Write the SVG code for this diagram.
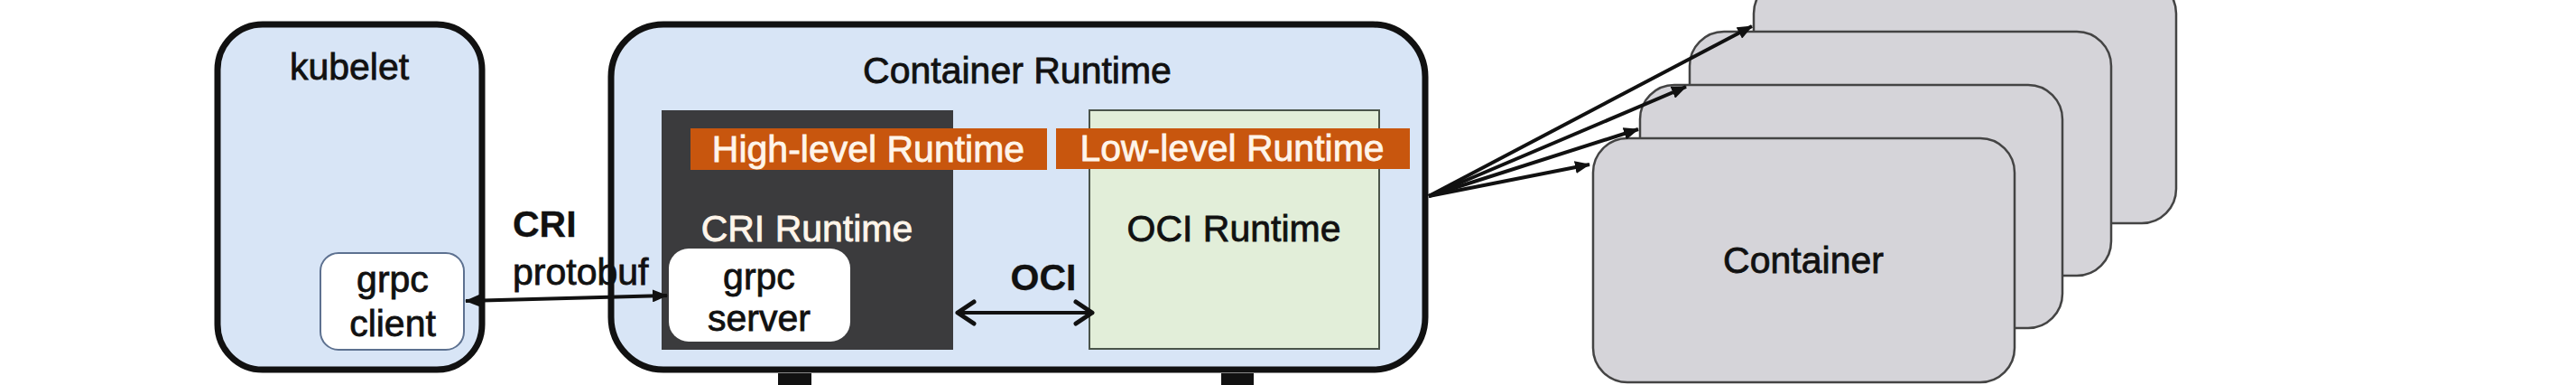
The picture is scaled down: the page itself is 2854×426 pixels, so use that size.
<svg xmlns="http://www.w3.org/2000/svg" width="2854" height="426" viewBox="0 0 2854 426">
<style>
text{font-family:"Liberation Sans",Arial,sans-serif;font-size:41px;fill:#111;stroke:#111;stroke-width:0.8}
.c{text-anchor:middle}
.b{font-weight:bold;stroke-width:0.3}
.w{fill:#fff5ea;stroke:#fff5ea}
.outer{fill:#d8e5f6;stroke:#111;stroke-width:7}
.inner{fill:#fff;stroke:#5d7190;stroke-width:2}
.bar{fill:#c8560e}
.cont{fill:#d5d4d9;stroke:#444;stroke-width:2.5}
.conn{stroke:#111;stroke-width:4;fill:none}
</style>
<defs>
<marker id="ah" markerUnits="userSpaceOnUse" markerWidth="18" markerHeight="14" refX="16" refY="7" orient="auto-start-reverse">
<path d="M0,0 L17,7 L0,14 z" fill="#111"/>
</marker>
<marker id="ch" markerUnits="userSpaceOnUse" markerWidth="26" markerHeight="30" refX="21" refY="15" orient="auto-start-reverse">
<path d="M3,3 L21,15 L3,27" fill="none" stroke="#111" stroke-width="5" stroke-linecap="round" stroke-linejoin="round"/>
</marker>
</defs>
<rect width="2854" height="426" fill="#fff"/>
<g id="posts">
<rect x="862" y="413" width="37" height="13" fill="#111"/>
<rect x="1353" y="413" width="36" height="13" fill="#111"/>
</g>
<g id="kubelet">
<rect class="outer" x="241" y="27" width="293" height="382" rx="50"/>
<text class="c" x="387" y="88">kubelet</text>
</g>
<g id="grpc-client">
<rect class="inner" x="355" y="280" width="159" height="107" rx="20"/>
<text class="c" x="435" y="323">grpc</text>
<text class="c" x="435" y="372">client</text>
</g>
<g id="container-runtime">
<rect class="outer" x="677" y="27" width="902" height="382" rx="58"/>
<text class="c" x="1127" y="92">Container Runtime</text>
</g>
<g id="cri-runtime">
<rect x="733" y="122" width="323" height="265" fill="#3b3b3d"/>
<text class="c w" x="894" y="267">CRI Runtime</text>
</g>
<g id="oci-runtime">
<rect x="1207" y="122" width="321" height="264" fill="#e2eed9" stroke="#4a544a" stroke-width="2"/>
<text class="c" x="1367" y="267">OCI Runtime</text>
</g>
<g id="high-level">
<rect class="bar" x="765" y="142" width="395" height="46"/>
<text class="c w" x="962" y="179">High-level Runtime</text>
</g>
<g id="low-level">
<rect class="bar" x="1170" y="142" width="392" height="45"/>
<text class="c w" x="1365" y="178">Low-level Runtime</text>
</g>
<g id="grpc-server">
<rect x="741" y="275" width="201" height="103" rx="22" fill="#fff"/>
<text class="c" x="841" y="320">grpc</text>
<text class="c" x="841" y="366">server</text>
</g>
<g id="containers">
<rect class="cont" x="1943" y="-23" width="468" height="270" rx="38"/>
<rect class="cont" x="1872" y="35" width="467" height="270" rx="38"/>
<rect class="cont" x="1817" y="94" width="468" height="269" rx="38"/>
<rect class="cont" x="1765" y="153" width="467" height="270" rx="38"/>
<text class="c" x="1998" y="302">Container</text>
</g>
<g id="connectors">
<line class="conn" x1="516" y1="333" x2="739" y2="327" marker-start="url(#ah)" marker-end="url(#ah)"/>
<line class="conn" x1="1061" y1="346" x2="1210" y2="346" stroke-width="5" marker-start="url(#ch)" marker-end="url(#ch)"/>
<line class="conn" x1="1583" y1="217" x2="1941" y2="29" marker-end="url(#ah)"/>
<line class="conn" x1="1583" y1="217" x2="1868" y2="96" marker-end="url(#ah)"/>
<line class="conn" x1="1583" y1="217" x2="1815" y2="143" marker-end="url(#ah)"/>
<line class="conn" x1="1583" y1="217" x2="1761" y2="182" marker-end="url(#ah)"/>
</g>
<g id="labels">
<text class="b" x="568" y="262">CRI</text>
<text x="568" y="315">protobuf</text>
<text class="c b" x="1156" y="321">OCI</text>
</g>
</svg>
